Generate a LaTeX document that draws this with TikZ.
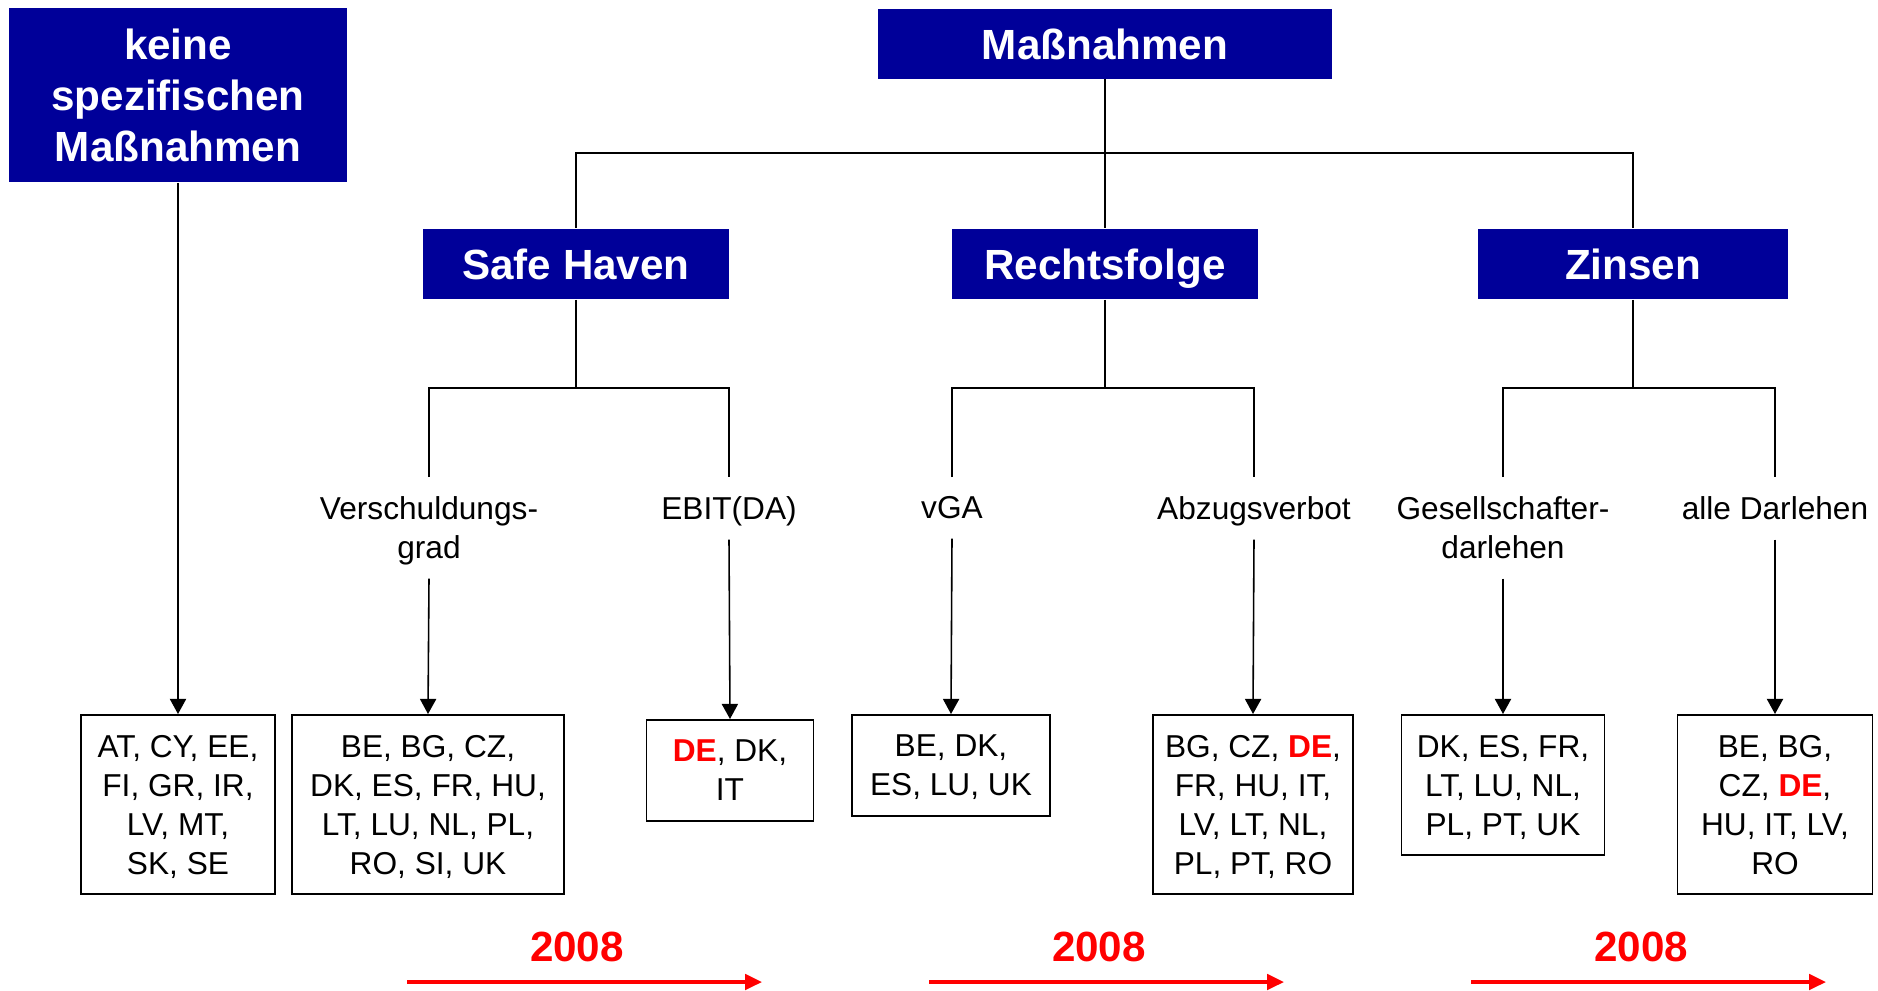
\documentclass[tikz,border=0pt]{standalone}
\usepackage{fontspec}
\setmainfont{Liberation Sans}
\usetikzlibrary{arrows.meta}
\definecolor{titleblue}{RGB}{0,0,153}
\definecolor{yearred}{RGB}{255,0,0}
\newcommand{\hl}[1]{\textcolor{yearred}{\textbf{#1}}}

\begin{document}
\begin{tikzpicture}[x=0.01cm, y=-0.01cm, line width=0.45pt,
    >={Triangle[length=4.3pt, width=4.6pt]},
    head/.style = {fill=titleblue, text=white, font={\fontsize{12}{14.5}\selectfont\bfseries}, align=center, inner sep=0pt, minimum height=0.70cm, text depth=0pt},
    land/.style = {draw, line width=0.5pt, font={\fontsize{9}{11.1}\selectfont}, align=center, anchor=north, inner xsep=0pt, inner ysep=0.2cm, text depth=0pt},
    crit/.style = {font={\fontsize{9}{11.1}\selectfont}, align=center, anchor=north, inner xsep=1pt, inner ysep=0.19cm, text depth=0pt},
    year/.style = {text=yearred, font={\fontsize{12}{14.5}\selectfont\bfseries}},
    timeline/.style = {->, draw=yearred, line width=0.95pt, >={Triangle[length=4.8pt, width=4.4pt]}}]

    \useasboundingbox (0,0) rectangle (1878,990);

    % Title boxes
    \node[head, minimum width=3.38cm, minimum height=1.74cm] (keine) at (178,95) {keine\\spezifischen\\Maßnahmen};
    \node[head, minimum width=4.53cm, minimum height=0.69cm] (top) at (1105,44) {Maßnahmen};
    \node[head, minimum width=3.06cm] (safe) at (576,264) {Safe Haven};
    \node[head, minimum width=3.06cm] (rechts) at (1105,264) {Rechtsfolge};
    \node[head, minimum width=3.10cm] (zinsen) at (1633,264) {Zinsen};

    % Criteria
    \node[crit] (verschuld) at (429,477) {Verschuldungs-\\grad};
    \node[crit] (ebit) at (729,477) {EBIT(DA)};
    \node[crit] (vga) at (952,477) {vGA};
    \node[crit] (abzug) at (1254,477) {Abzugsverbot};
    \node[crit] (gesell) at (1503,477) {Gesellschafter-\\darlehen};
    \node[crit] (alle) at (1775,477) {alle Darlehen};

    % Country boxes
    \node[land, minimum width=1.94cm] (cNone) at (178,714) {AT, CY, EE,\\FI, GR, IR,\\LV, MT,\\SK, SE};
    \node[land, minimum width=2.72cm] (cVer) at (428,714) {BE, BG, CZ,\\DK, ES, FR, HU,\\LT, LU, NL, PL,\\RO, SI, UK};
    \node[land, minimum width=1.67cm] (cEbit) at (730,719) {\hl{DE}, DK,\\IT};
    \node[land, minimum width=1.98cm] (cVga) at (951,714) {BE, DK,\\ES, LU, UK};
    \node[land, minimum width=2.00cm] (cAbz) at (1253,714) {BG, CZ, \hl{DE},\\FR, HU, IT,\\LV, LT, NL,\\PL, PT, RO};
    \node[land, minimum width=2.03cm] (cGes) at (1503,714) {DK, ES, FR,\\LT, LU, NL,\\PL, PT, UK};
    \node[land, minimum width=1.95cm] (cAlle) at (1775,714) {BE, BG,\\CZ, \hl{DE},\\HU, IT, LV,\\RO};

    % Years
    \node[year] (year1) at (577,947) {2008};
    \node[year] (year2) at (1099,947) {2008};
    \node[year] (year3) at (1641,947) {2008};

    % Bus points
    \coordinate (bus) at (1105,153);
    \coordinate (busSafe) at (576,388);
    \coordinate (busRechts) at (1105,388);
    \coordinate (busZinsen) at (1633,388);

    % Edges
    \draw (top.south) -- (bus);
    \draw (safe.north) |- (bus) -| (zinsen.north);
    \draw (bus) -- (rechts.north);

    \draw (safe.south) -- (busSafe);
    \draw (verschuld.north) |- (busSafe) -| (ebit.north);
    \draw (rechts.south) -- (busRechts);
    \draw (vga.north) |- (busRechts) -| (abzug.north);
    \draw (zinsen.south) -- (busZinsen);
    \draw (gesell.north) |- (busZinsen) -| (alle.north);

    \draw[->] (keine.south) -- (cNone.north);
    \draw[->] (verschuld.south) -- (cVer.north);
    \draw[->] (ebit.south) -- (cEbit.north);
    \draw[->] (vga.south) -- (cVga.north);
    \draw[->] (abzug.south) -- (cAbz.north);
    \draw[->] (gesell.south) -- (cGes.north);
    \draw[->] (alle.south) -- (cAlle.north);

    % Timelines
    \coordinate (line1a) at (407,982);
    \coordinate (line1b) at (762,982);
    \coordinate (line2a) at (929,982);
    \coordinate (line2b) at (1284,982);
    \coordinate (line3a) at (1471,982);
    \coordinate (line3b) at (1826,982);
    \draw[timeline] (line1a) -- (line1b);
    \draw[timeline] (line2a) -- (line2b);
    \draw[timeline] (line3a) -- (line3b);

\end{tikzpicture}
\end{document}
